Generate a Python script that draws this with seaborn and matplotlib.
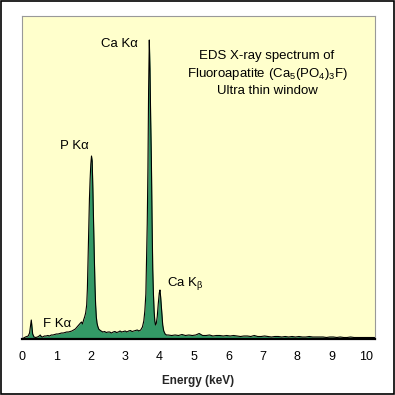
import pandas as pd
import seaborn as sns
import matplotlib.pyplot as plt
from matplotlib.patches import Rectangle

# EDS spectrum (energy in keV, counts in arbitrary units)
energy_kev = [
    0.00, 0.10, 0.18, 0.22, 0.25, 0.27, 0.29, 0.31, 0.35, 0.40, 0.45, 0.50,
    0.53, 0.56, 0.60, 0.65, 0.70, 0.75, 0.80, 0.85, 0.90, 0.95, 1.00, 1.05,
    1.10, 1.15, 1.20, 1.25, 1.30, 1.35, 1.40, 1.45, 1.50, 1.55, 1.60, 1.65,
    1.70, 1.73, 1.76, 1.79, 1.82, 1.85, 1.88, 1.90, 1.92, 1.94, 1.96, 1.98,
    2.00, 2.02, 2.04, 2.06, 2.08, 2.10, 2.12, 2.14, 2.16, 2.18, 2.20, 2.23,
    2.26, 2.30, 2.35, 2.40, 2.45, 2.50, 2.55, 2.60, 2.65, 2.70, 2.75, 2.80,
    2.85, 2.90, 2.95, 3.00, 3.05, 3.10, 3.15, 3.20, 3.25, 3.30, 3.35, 3.40,
    3.45, 3.50, 3.54, 3.57, 3.60, 3.62, 3.64, 3.66, 3.68, 3.70, 3.72, 3.74,
    3.76, 3.78, 3.80, 3.82, 3.84, 3.86, 3.88, 3.90, 3.93, 3.96, 3.99, 4.01,
    4.03, 4.06, 4.09, 4.12, 4.16, 4.20,
    4.25, 4.35, 4.45, 4.55, 4.65, 4.75, 4.85, 4.95, 5.05, 5.15, 5.25, 5.35,
    5.45, 5.55, 5.65, 5.75, 5.85, 5.95, 6.05, 6.15, 6.25, 6.35, 6.45, 6.55,
    6.65, 6.75, 6.85, 6.95, 7.05, 7.15, 7.25, 7.35, 7.45, 7.55, 7.65, 7.75,
    7.85, 7.95, 8.05, 8.15, 8.25, 8.35, 8.45, 8.55, 8.65, 8.75, 8.85, 8.95,
    9.05, 9.15, 9.25, 9.35, 9.45, 9.55, 9.65, 9.75, 9.85, 9.95, 10.05, 10.15,
    10.25,
]
counts = [
    0, 2, 3, 6, 14, 19, 12, 5, 2, 1.5, 2, 3,
    4, 2.5, 2, 3, 3, 3.5, 3, 4, 4, 4.5, 5, 5,
    5.5, 6, 6, 6.5, 7, 7, 7.5, 8, 9, 10, 12, 14,
    16, 17, 15, 19, 22, 26, 34, 50, 80, 110, 140, 160,
    175, 183, 178, 150, 115, 85, 55, 34, 22, 16, 13, 10,
    9, 8, 7, 7.5, 6.5, 7, 7, 6, 7, 7.5, 6.5, 7,
    8, 7, 7.5, 8, 7, 8, 8.5, 7.5, 8, 8.5, 9, 8,
    9, 12, 18, 28, 45, 80, 115, 170, 250, 299, 270, 220,
    180, 120, 70, 45, 28, 18, 14, 15, 22, 35, 46, 49,
    42, 28, 14, 8, 5, 4,
    4, 3.5, 4, 3.5, 4.5, 3.5, 4, 3.5, 4, 5.5, 3.5, 3.5,
    4, 3, 3.5, 3.5, 3, 3.5, 3, 3.5, 3, 2.5, 3, 3,
    2.5, 3.5, 2.5, 2.5, 3, 2.5, 2, 2.5, 2.5, 2, 2.5, 2,
    2.5, 2, 2.5, 2, 2, 2.5, 2, 2, 2, 2, 1.5, 2,
    2, 1.5, 2, 1.5, 1.5, 2, 1.5, 1.5, 1.5, 1.5, 1.5, 1.5,
    1.5,
]
xticks = list(range(0, 11))

df = pd.DataFrame({"energy": energy_kev, "counts": counts})

sns.set_theme(style="white")
plt.rcParams["font.family"] = ["Liberation Sans", "DejaVu Sans"]
plt.rcParams["mathtext.default"] = "regular"

fig = plt.figure(figsize=(3.95, 3.95), dpi=100)
fig.patch.set_facecolor("white")
ax = fig.add_axes([22 / 395, 56 / 395, 353 / 395, 323 / 395])
ax.set_facecolor("#FFFFCC")

ax.fill_between(df["energy"], df["counts"], 0, color="#339966", lw=0)
sns.lineplot(data=df, x="energy", y="counts", color="black", lw=0.8, ax=ax)

ax.set_xlim(0, 10.26)
ax.set_ylim(0, 323)
ax.set_xticks(xticks)
ax.set_xticklabels([str(t) for t in xticks], fontsize=9)
ax.set_yticks([])
ax.tick_params(axis="x", length=0, pad=9, colors="black")
ax.set_xlabel("Energy (keV)", fontsize=8.5, fontweight="bold", labelpad=8)
ax.set_ylabel("")

for side in ["left", "top", "right"]:
    ax.spines[side].set_color("#999999")
    ax.spines[side].set_linewidth(0.8)
ax.spines["bottom"].set_color("black")
ax.spines["bottom"].set_linewidth(1.6)

lab = dict(fontsize=9.5, ha="center", va="center", color="black")
ax.text(2.82, 295, "Ca K\u03b1", **lab)
ax.text(1.51, 193, "P K\u03b1", **lab)
ax.text(1.02, 15, "F K\u03b1", **lab)
ax.text(4.74, 56, "Ca K$_{\u03b2}$", **lab)
ax.text(7.12, 265,
        "EDS X-ray spectrum of\nFluoroapatite (Ca$_5$(PO$_4$)$_3$F)\nUltra thin window",
        linespacing=1.35, **lab)

fig.add_artist(Rectangle((0.002, 0.002), 0.996, 0.996, transform=fig.transFigure,
                         fill=False, ec="black", lw=1.2))

plt.savefig("out.png", dpi=100)
